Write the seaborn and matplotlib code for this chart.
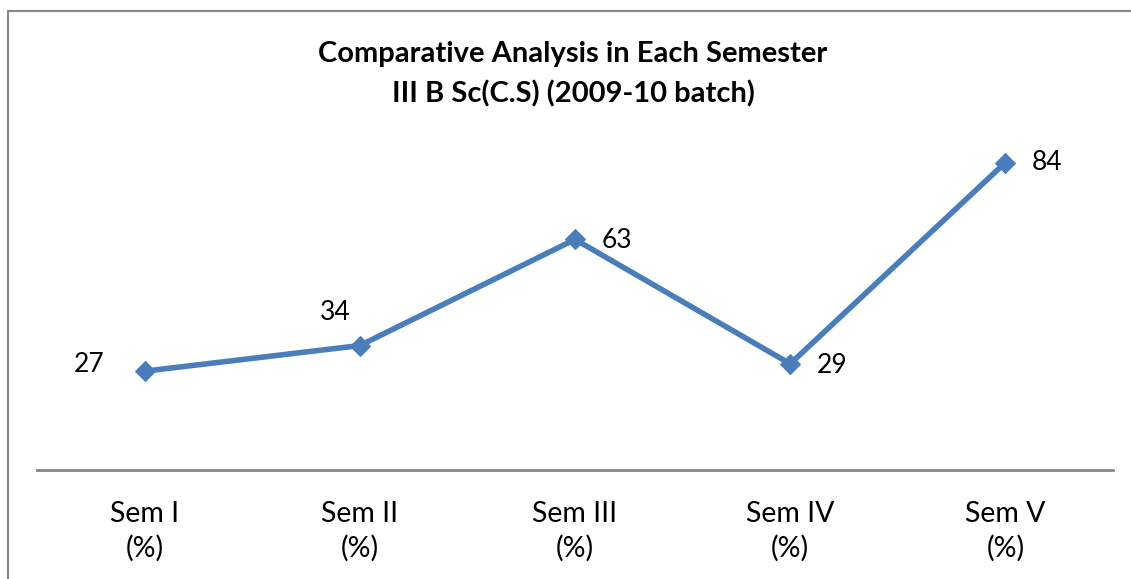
import matplotlib
matplotlib.use("Agg")
import matplotlib.pyplot as plt
import seaborn as sns
import pandas as pd

# values
semesters = ["Sem I\n(%)", "Sem II\n(%)", "Sem III\n(%)", "Sem IV\n(%)", "Sem V\n(%)"]
pass_pct = [27, 34, 63, 29, 84]
# where each data label sits relative to its point (offset in points)
label_offsets = [(-40, 5), (-18, 24), (30, -1), (30, -1), (30, 0)]

sns.set_style("white")
plt.rcParams["font.family"] = ["Lato", "DejaVu Sans"]
plt.rcParams["text.color"] = "black"
plt.rcParams["xtick.color"] = "black"

df = pd.DataFrame({"sem": semesters, "pct": pass_pct})
df["pos"] = range(len(df))

fig = plt.figure(figsize=(11.31, 5.79), dpi=100)
ax = fig.add_axes([37 / 1131, 1 - 470 / 579, 1076 / 1131, 366 / 579])

line_col = "#4A7EBB"
sns.lineplot(data=df, x="pos", y="pct", ax=ax, color=line_col, linewidth=4,
             marker="D", markersize=10, markeredgecolor=line_col)

for i, row in df.iterrows():
    ax.annotate(str(row["pct"]), (row["pos"], row["pct"]),
                xytext=label_offsets[i], textcoords="offset points",
                ha="center", va="center", fontsize=19, color="black")

ax.set_xlim(-0.5, len(df) - 0.5)
ax.set_ylim(0, 100)
ax.set_xticks(df["pos"])
ax.set_xticklabels(df["sem"], fontsize=20.5, linespacing=1.4)
ax.tick_params(axis="x", length=0, pad=22)
ax.set_yticks([])
ax.set_xlabel("")
ax.set_ylabel("")
for s in ["left", "right", "top"]:
    ax.spines[s].set_visible(False)
ax.spines["bottom"].set_color("#868686")
ax.spines["bottom"].set_linewidth(2)

fig.text(573 / 1131, 1 - 74 / 579,
         "Comparative Analysis in Each Semester\nIII B Sc(C.S) (2009-10 batch)",
         ha="center", va="center", fontsize=21, fontweight="bold", linespacing=1.6)

# chart frame (only left and top edges are visible in the crop)
fig.add_artist(plt.Line2D([7.5 / 1131, 7.5 / 1131], [0, 1 - 10.5 / 579],
                          transform=fig.transFigure, color="#868686", linewidth=1.5))
fig.add_artist(plt.Line2D([7.5 / 1131, 1], [1 - 10.5 / 579, 1 - 10.5 / 579],
                          transform=fig.transFigure, color="#868686", linewidth=1.5))

fig.savefig("out.png", dpi=100)
